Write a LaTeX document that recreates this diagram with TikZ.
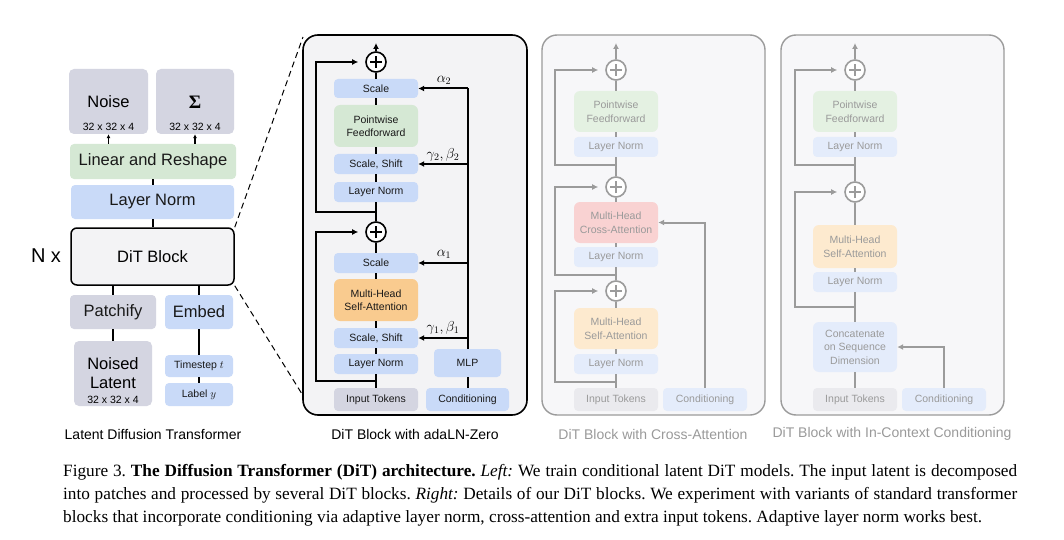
\documentclass[tikz,border=0pt]{standalone}
\usepackage{fontspec}
\setmainfont{Liberation Serif}
\setsansfont{Liberation Sans}
\usetikzlibrary{arrows.meta,calc}
\definecolor{cgray}{HTML}{D4D5E1}
\definecolor{cblue}{HTML}{C9DAF8}
\definecolor{cgreen}{HTML}{D5E8D4}
\definecolor{corange}{HTML}{F9CB8F}
\definecolor{cdit}{HTML}{F3F3F5}
\definecolor{fgreen}{HTML}{E4F1E2}
\definecolor{fblue}{HTML}{E4ECFB}
\definecolor{forange}{HTML}{FDEACF}
\definecolor{fred}{HTML}{F9D2D2}
\definecolor{fgray}{HTML}{EAEAEE}
\definecolor{fline}{HTML}{9B9B9B}
\definecolor{ftext}{HTML}{9A9A9A}
\definecolor{fbg}{HTML}{F7F7F9}
\newcommand\fzL{\sffamily\fontsize{16.5}{19}\selectfont}
\newcommand\fzS{\sffamily\fontsize{10.5}{13.5}\selectfont}
\newcommand\fzT{\sffamily\fontsize{14}{17}\selectfont}
\newcommand\fzC{\rmfamily\fontsize{17.25}{23}\selectfont\frenchspacing}
\tikzset{
 bx/.style={rounded corners=4pt, inner sep=0pt, align=center, font=\fzS, text=black!90},
 gb/.style={bx, fill=cgray}, bb/.style={bx, fill=cblue}, grb/.style={bx, fill=cgreen}, ob/.style={bx, fill=corange},
 fb/.style={bx, text=ftext},
 fgb/.style={fb, fill=fgray}, fbb/.style={fb, fill=fblue}, fgrb/.style={fb, fill=fgreen}, fob/.style={fb, fill=forange}, frb/.style={fb, fill=fred},
 ln/.style={line width=2pt, black},
 fln/.style={line width=2pt, fline},
 arr/.style={-{Latex[length=6pt,width=6pt]}},
 plusc/.style={circle, draw=#1, line width=1.6pt, minimum size=20pt, inner sep=0pt, fill=white,
   path picture={\draw[#1, line width=1.4pt] ([xshift=-6pt]path picture bounding box.center) -- ([xshift=6pt]path picture bounding box.center) ([yshift=-6pt]path picture bounding box.center) -- ([yshift=6pt]path picture bounding box.center);}},
 ttl/.style={font=\fzT, inner sep=0pt},
 lbl/.style={inner sep=0pt, font=\fontsize{14}{16}\selectfont},
}
\begin{document}
\begin{tikzpicture}[x=1pt,y=-1pt,font=\sffamily]
\fill[white] (0,0) rectangle (1064,540);
\useasboundingbox (0,0) rectangle (1064,540);

% ---------------- left column ----------------
\node[gb, rounded corners=5pt, minimum width=79, minimum height=65] (noise) at (108.5,101.5) {};
\node[inner sep=0pt, font=\fzL] (noiseT) at (108.5,102) {Noise};
\node[inner sep=0pt, font=\fzS] (noiseD) at (108.5,127) {32 x 32 x 4};
\node[gb, rounded corners=5pt, minimum width=78, minimum height=65] (sig) at (195,101.5) {};
\node[inner sep=0pt, font=\rmfamily\bfseries\fontsize{19}{21}\selectfont] (sigT) at (195,102) {Σ};
\node[inner sep=0pt, font=\fzS] (sigD) at (195,127) {32 x 32 x 4};
\node[grb, font=\fzL, minimum width=166, minimum height=35] (lr) at (153,161.5) {Linear and Reshape};
\node[bb, font=\fzL, minimum width=163, minimum height=34] (lnorm) at (152.5,202) {Layer Norm};
\node[draw=black, line width=1.5pt, fill=cdit, rounded corners=6pt, font=\fzL, minimum width=163, minimum height=57, inner sep=0pt] (dit) at (152.5,256.5) {DiT Block};
\node[inner sep=0pt, font=\sffamily\fontsize{20}{24}\selectfont] (nx) at (46,256) {N x};
\node[gb, font=\fzL, minimum width=86, minimum height=34] (patch) at (113,312) {Patchify};
\node[bb, font=\fzL, minimum width=68, minimum height=34] (embed) at (199,312) {Embed};
\node[gb, rounded corners=5pt, minimum width=78, minimum height=65] (latent) at (113,373.5) {};
\node[inner sep=0pt, font=\fzL, align=center] (latentT) at (113,373.5) {Noised\\Latent};
\node[inner sep=0pt, font=\fzS] (latentD) at (113,400) {32 x 32 x 4};
\node[bb, minimum width=68, minimum height=22] (tstep) at (199,366) {Timestep $t$};
\node[bb, minimum width=68, minimum height=23] (label) at (199,394.5) {Label $y$};
\node[ttl] (t1) at (153,434) {Latent Diffusion Transformer};

\draw[line width=1.2pt, -{Latex[length=4pt,width=4pt]}] (lr.north -| noise.south) -- (noise.south);
\draw[line width=1.2pt, -{Latex[length=4pt,width=4pt]}] (lr.north -| sig.south) -- (sig.south);
\draw[ln] (lr.south) -- (lr.south |- lnorm.north);
\draw[ln] (lnorm.south) -- (lnorm.south |- dit.north);
\draw[ln] (patch.north) -- (patch.north |- dit.south);
\draw[ln] (embed.north) -- (embed.north |- dit.south);
\draw[ln] (patch.south) -- (latent.north);
\draw[ln] (embed.south) -- (tstep.north);
\draw[ln] (tstep.south) -- (tstep.south |- label.north);

% ---------------- adaLN-Zero block ----------------
\node[draw=black, line width=1.6pt, fill=cdit, rounded corners=15pt, minimum width=224, minimum height=380, inner sep=0pt] (abox) at (415,225) {};
\coordinate (dz1) at (303,37);
\coordinate (dz2) at (302,394);
\draw[line width=1pt, dash pattern=on 6pt off 4pt] (dit.north east) -- (dz1);
\draw[line width=1pt, dash pattern=on 6pt off 4pt] (dit.south east) -- (dz2);

\node[bb, minimum width=84, minimum height=19] (ascale2) at (376,88.5) {Scale};
\node[grb, rounded corners=6pt, minimum width=84, minimum height=42] (apf) at (376,126) {Pointwise\\Feedforward};
\node[bb, minimum width=84, minimum height=20] (ass2) at (376,164) {Scale, Shift};
\node[bb, minimum width=84, minimum height=20] (aln2) at (376,192) {Layer Norm};
\node[plusc=black] (ap2) at (376,62) {};
\node[plusc=black] (ap1) at (376,232) {};
\node[bb, minimum width=84, minimum height=20] (ascale1) at (376,263) {Scale};
\node[ob, rounded corners=6pt, minimum width=84, minimum height=42] (amhsa) at (376,300) {Multi-Head\\Self-Attention};
\node[bb, minimum width=84, minimum height=20] (ass1) at (376,338) {Scale, Shift};
\node[bb, minimum width=84, minimum height=20] (aln1) at (376,364) {Layer Norm};
\node[gb, minimum width=84, minimum height=23] (ain) at (376,399.5) {Input Tokens};
\node[bb, minimum width=83, minimum height=23] (acond) at (467.5,399.5) {Conditioning};
\node[bb, minimum width=67, minimum height=28] (amlp) at (467.5,363) {MLP};
\node[ttl] (t2) at (415,434) {DiT Block with adaLN-Zero};
\coordinate (aout) at (376,43);
\coordinate (atop) at (467.5,88.5);
\coordinate (alx) at (316,0);
\coordinate (ar1) at (376,381);
\coordinate (ar2) at (376,212);

\draw[ln] (ain.north) -- (aln1.south);
\draw[ln] (aln1.north) -- (ass1.south);
\draw[ln] (ass1.north) -- (amhsa.south);
\draw[ln] (amhsa.north) -- (ascale1.south);
\draw[ln] (ascale1.north) -- (ap1.south);
\draw[ln] (ap1.north) -- (aln2.south);
\draw[ln] (aln2.north) -- (ass2.south);
\draw[ln] (ass2.north) -- (apf.south);
\draw[ln] (apf.north) -- (ascale2.south);
\draw[ln] (ascale2.north) -- (ap2.south);
\draw[ln, arr] (ap2.north) -- (aout);
\draw[ln, arr, shorten >=7pt] (ar1) -- (ar1 -| alx) |- (ap1.west);
\draw[ln, arr, shorten >=7pt] (ar2) -- (ar2 -| alx) |- (ap2.west);
\draw[ln] (acond.north) -- (amlp.south);
\draw[ln] (amlp.north) -- (atop);
\draw[ln, arr] (atop) -- (ascale2.east);
\draw[ln, arr] (ass2.east -| atop) -- (ass2.east);
\draw[ln, arr] (ascale1.east -| atop) -- (ascale1.east);
\draw[ln, arr] (ass1.east -| atop) -- (ass1.east);
\node[lbl] (la2) at (444,80) {$\alpha_2$};
\node[lbl] (lg2) at (443,155) {$\gamma_2,\beta_2$};
\node[lbl] (la1) at (444,254) {$\alpha_1$};
\node[lbl] (lg1) at (443,328) {$\gamma_1,\beta_1$};

% ---------------- Cross-attention block ----------------
\node[draw=fline, line width=1.4pt, fill=fbg, rounded corners=15pt, minimum width=223, minimum height=380, inner sep=0pt] (cbox) at (653.5,225) {};
\node[plusc=fline] (cp3) at (616,70) {};
\node[fgrb, rounded corners=6pt, minimum width=84, minimum height=41] (cpf) at (616,111.5) {Pointwise\\Feedforward};
\node[fbb, minimum width=84, minimum height=20] (cln3) at (616,147) {Layer Norm};
\node[plusc=fline] (cp2) at (616,187) {};
\node[frb, rounded corners=6pt, minimum width=84, minimum height=41] (cca) at (616,222.5) {Multi-Head\\Cross-Attention};
\node[fbb, minimum width=84, minimum height=20] (cln2) at (616,257) {Layer Norm};
\node[plusc=fline] (cp1) at (616,291) {};
\node[fob, rounded corners=6pt, minimum width=84, minimum height=41] (cmhsa) at (616,328.5) {Multi-Head\\Self-Attention};
\node[fbb, minimum width=84, minimum height=20] (cln1) at (616,364) {Layer Norm};
\node[fgb, minimum width=84, minimum height=23] (cin) at (616,399.5) {Input Tokens};
\node[fbb, minimum width=84, minimum height=23] (ccond) at (705,399.5) {Conditioning};
\node[ttl, text=ftext] (t3) at (653,434) {DiT Block with Cross-Attention};
\coordinate (cout) at (616,43);
\coordinate (clx) at (555,0);
\coordinate (cr1) at (616,382);
\coordinate (cr2) at (616,275);
\coordinate (cr3) at (616,165);
\coordinate (cct) at (705,222.5);

\draw[fln] (cin.north) -- (cln1.south);
\draw[fln] (cln1.north) -- (cmhsa.south);
\draw[fln] (cmhsa.north) -- (cp1.south);
\draw[fln] (cp1.north) -- (cln2.south);
\draw[fln] (cln2.north) -- (cca.south);
\draw[fln] (cca.north) -- (cp2.south);
\draw[fln] (cp2.north) -- (cln3.south);
\draw[fln] (cln3.north) -- (cpf.south);
\draw[fln] (cpf.north) -- (cp3.south);
\draw[fln, arr] (cp3.north) -- (cout);
\draw[fln, arr, shorten >=7pt] (cr1) -- (cr1 -| clx) |- (cp1.west);
\draw[fln, arr, shorten >=7pt] (cr2) -- (cr2 -| clx) |- (cp2.west);
\draw[fln, arr, shorten >=7pt] (cr3) -- (cr3 -| clx) |- (cp3.west);
\draw[fln, arr] (ccond.north) -- (cct) -- (cca.east);

% ---------------- In-context block ----------------
\node[draw=fline, line width=1.4pt, fill=fbg, rounded corners=15pt, minimum width=223, minimum height=380, inner sep=0pt] (ibox) at (892.5,225) {};
\node[plusc=fline] (ip2) at (855,70) {};
\node[fgrb, rounded corners=6pt, minimum width=84, minimum height=41] (ipf) at (855,111.5) {Pointwise\\Feedforward};
\node[fbb, minimum width=84, minimum height=20] (iln2) at (855,147) {Layer Norm};
\node[plusc=fline] (ip1) at (855,192) {};
\node[fob, rounded corners=6pt, minimum width=84, minimum height=43] (imhsa) at (855,246.5) {Multi-Head\\Self-Attention};
\node[fbb, minimum width=84, minimum height=20] (iln1) at (855,282) {Layer Norm};
\node[fbb, rounded corners=6pt, minimum width=84, minimum height=50] (icat) at (855,347) {Concatenate\\on Sequence\\Dimension};
\node[fgb, minimum width=84, minimum height=23] (iin) at (855,399.5) {Input Tokens};
\node[fbb, minimum width=84, minimum height=23] (icond) at (944,399.5) {Conditioning};
\node[ttl, text=ftext] (t4) at (892,434) {DiT Block with In-Context Conditioning};
\coordinate (iout) at (855,43);
\coordinate (ilx) at (795,0);
\coordinate (ir1) at (855,307);
\coordinate (ir2) at (855,165);
\coordinate (ict) at (944,347);

\draw[fln] (iin.north) -- (icat.south);
\draw[fln] (icat.north) -- (iln1.south);
\draw[fln] (iln1.north) -- (imhsa.south);
\draw[fln] (imhsa.north) -- (ip1.south);
\draw[fln] (ip1.north) -- (iln2.south);
\draw[fln] (iln2.north) -- (ipf.south);
\draw[fln] (ipf.north) -- (ip2.south);
\draw[fln, arr] (ip2.north) -- (iout);
\draw[fln, arr, shorten >=7pt] (ir1) -- (ir1 -| ilx) |- (ip1.west);
\draw[fln, arr, shorten >=7pt] (ir2) -- (ir2 -| ilx) |- (ip2.west);
\draw[fln, arr] (icond.north) -- (ict) -- (icat.east);

% ---------------- caption ----------------
\node[anchor=base west, inner sep=0pt, font=\fzC] (cap1) at (63,476) {\makebox[954pt][s]{Figure 3. \textbf{The Diffusion Transformer (DiT) architecture.} \textit{Left:} We train conditional latent DiT models. The input latent is decomposed}};
\node[anchor=base west, inner sep=0pt, font=\fzC] (cap2) at (63,499) {\makebox[954pt][s]{into patches and processed by several DiT blocks. \textit{Right:} Details of our DiT blocks. We experiment with variants of standard transformer}};
\node[anchor=base west, inner sep=0pt, font=\fzC] (cap3) at (63,522) {blocks that incorporate conditioning via adaptive layer norm, cross-attention and extra input tokens. Adaptive layer norm works best.};
\end{tikzpicture}
\end{document}
